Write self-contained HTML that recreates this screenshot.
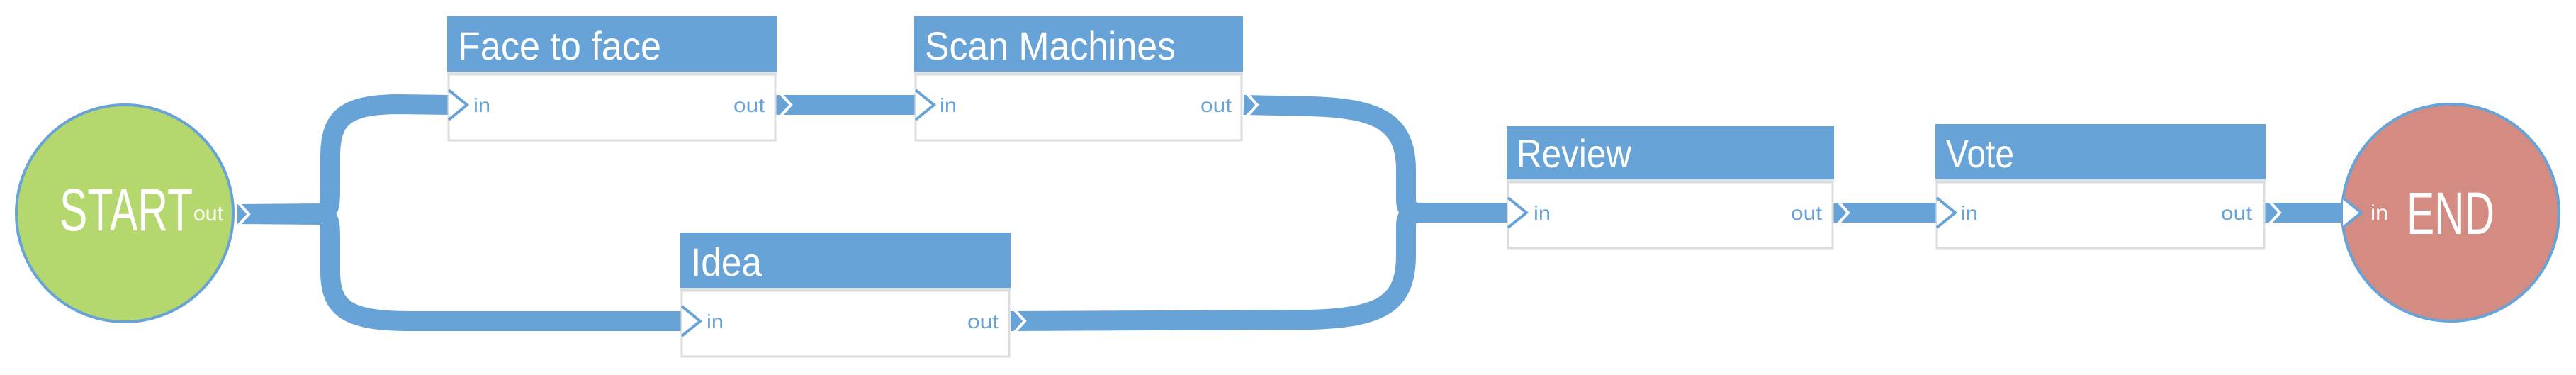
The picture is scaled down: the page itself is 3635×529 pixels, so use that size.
<!DOCTYPE html>
<html><head><meta charset="utf-8"><style>
html,body{margin:0;padding:0;background:#fff;}
svg{display:block;}
text{font-family:"Liberation Sans",sans-serif;}
</style></head><body>
<svg width="3635" height="529" viewBox="0 0 3635 529" xmlns="http://www.w3.org/2000/svg">
<g fill="none" stroke="#68a3d7" stroke-width="28" stroke-linejoin="round">
<path d="M335,302 L450,301 C466,300 466,290 466,262 L466,222 C466,168 484,148 560,147 L640,148"/>
<path d="M335,302 L450,303 C466,304 466,314 466,342 L466,382 C466,436 490,453 580,453 L966,453"/>
<path d="M1090,148 L1296,148"/>
<path d="M1755,148 L1850,150 C1945,153 1984,172 1984,240 L1984,280 C1984,298 1990,300 2010,300 L2132,300"/>
<path d="M1426,453 L1850,451 C1950,448 1984,428 1984,360 L1984,320 C1984,302 1990,300 2010,300"/>
<path d="M2585,300 L2737,300"/>
<path d="M3195,300 L3310,300"/>
</g>
<circle cx="176" cy="301" r="153" fill="#b5d86e" stroke="#68a3d7" stroke-width="4"/>
<text x="84" y="325" font-size="84" fill="#fff" textLength="188" lengthAdjust="spacingAndGlyphs">START</text>
<text x="273" y="311" font-size="30" fill="#fff" textLength="42" lengthAdjust="spacingAndGlyphs">out</text>
<circle cx="3458" cy="300" r="153" fill="#d48c82" stroke="#68a3d7" stroke-width="4"/>
<text x="3396" y="330" font-size="84" fill="#fff" textLength="124" lengthAdjust="spacingAndGlyphs">END</text>
<text x="3345" y="310" font-size="30" fill="#fff" textLength="25" lengthAdjust="spacingAndGlyphs">in</text>
<g id="boxes">
<!-- Face to face -->
<rect x="631" y="23" width="465" height="78" fill="#68a3d7"/>
<rect x="631" y="101" width="465" height="4" fill="#dde3ea"/>
<rect x="633" y="105" width="461" height="93" fill="#fff" stroke="#dcdcdc" stroke-width="3"/>
<text x="646" y="84" font-size="56" fill="#fff" textLength="287" lengthAdjust="spacingAndGlyphs">Face to face</text>
<text x="668" y="158" font-size="28" fill="#68a3d7" textLength="24" lengthAdjust="spacingAndGlyphs">in</text>
<text x="1035" y="158" font-size="28" fill="#68a3d7" textLength="44" lengthAdjust="spacingAndGlyphs">out</text>
<!-- Scan Machines -->
<rect x="1290" y="23" width="464" height="78" fill="#68a3d7"/>
<rect x="1290" y="101" width="464" height="4" fill="#dde3ea"/>
<rect x="1292" y="105" width="460" height="93" fill="#fff" stroke="#dcdcdc" stroke-width="3"/>
<text x="1305" y="84" font-size="56" fill="#fff" textLength="354" lengthAdjust="spacingAndGlyphs">Scan Machines</text>
<text x="1326" y="158" font-size="28" fill="#68a3d7" textLength="24" lengthAdjust="spacingAndGlyphs">in</text>
<text x="1694" y="158" font-size="28" fill="#68a3d7" textLength="44" lengthAdjust="spacingAndGlyphs">out</text>
<!-- Idea -->
<rect x="960" y="328" width="466" height="78" fill="#68a3d7"/>
<rect x="960" y="406" width="466" height="4" fill="#dde3ea"/>
<rect x="962" y="410" width="462" height="93" fill="#fff" stroke="#dcdcdc" stroke-width="3"/>
<text x="975" y="389" font-size="56" fill="#fff" textLength="100" lengthAdjust="spacingAndGlyphs">Idea</text>
<text x="997" y="463" font-size="28" fill="#68a3d7" textLength="24" lengthAdjust="spacingAndGlyphs">in</text>
<text x="1365" y="463" font-size="28" fill="#68a3d7" textLength="44" lengthAdjust="spacingAndGlyphs">out</text>
<!-- Review -->
<rect x="2126" y="178" width="462" height="75" fill="#68a3d7"/>
<rect x="2126" y="253" width="462" height="4" fill="#dde3ea"/>
<rect x="2128" y="257" width="458" height="93" fill="#fff" stroke="#dcdcdc" stroke-width="3"/>
<text x="2140" y="236" font-size="56" fill="#fff" textLength="162" lengthAdjust="spacingAndGlyphs">Review</text>
<text x="2164" y="310" font-size="28" fill="#68a3d7" textLength="24" lengthAdjust="spacingAndGlyphs">in</text>
<text x="2527" y="310" font-size="28" fill="#68a3d7" textLength="44" lengthAdjust="spacingAndGlyphs">out</text>
<!-- Vote -->
<rect x="2731" y="175" width="466" height="78" fill="#68a3d7"/>
<rect x="2731" y="253" width="466" height="4" fill="#dde3ea"/>
<rect x="2733" y="257" width="462" height="93" fill="#fff" stroke="#dcdcdc" stroke-width="3"/>
<text x="2746" y="236" font-size="56" fill="#fff" textLength="96" lengthAdjust="spacingAndGlyphs">Vote</text>
<text x="2767" y="310" font-size="28" fill="#68a3d7" textLength="24" lengthAdjust="spacingAndGlyphs">in</text>
<text x="3134" y="310" font-size="28" fill="#68a3d7" textLength="44" lengthAdjust="spacingAndGlyphs">out</text>
</g>
<!-- input chevrons (blue outline, white fill) -->
<g fill="#fff" stroke="#68a3d7" stroke-width="4" stroke-linejoin="miter">
<path d="M633,127 L659,148 L633,169"/>
<path d="M1292,127 L1318,148 L1292,169"/>
<path d="M962,432 L988,453 L962,474"/>
<path d="M2128,279 L2154,300 L2128,321"/>
<path d="M2733,279 L2759,300 L2733,321"/>
<path d="M3306,279 L3332,300 L3306,321"/>
</g>
<!-- output chevrons (white outline) -->
<g fill="none" stroke="#fff" stroke-width="4">
<path d="M331,280 L351,302 L331,324"/>
<path d="M1096,126 L1116,148 L1096,170"/>
<path d="M1754,126 L1774,148 L1754,170"/>
<path d="M1426,431 L1446,453 L1426,475"/>
<path d="M2588,278 L2608,300 L2588,322"/>
<path d="M3197,278 L3217,300 L3197,322"/>
</g>
</svg>
</body></html>
